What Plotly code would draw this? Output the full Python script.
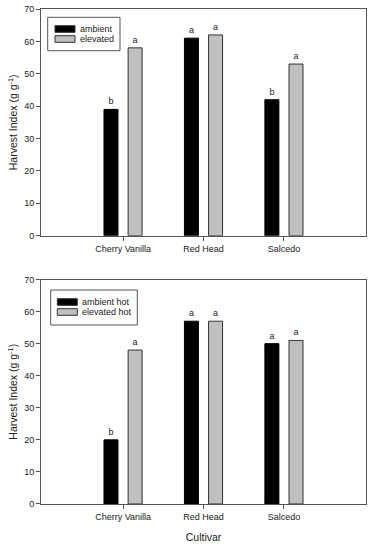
import plotly.graph_objects as go
from plotly.subplots import make_subplots

cultivars = ["Cherry Vanilla", "Red Head", "Salcedo"]

# Top panel
ambient = [39, 61, 42]
elevated = [58, 62, 53]
ambient_letters = ["b", "a", "b"]
elevated_letters = ["a", "a", "a"]

# Bottom panel
ambient_hot = [20, 57, 50]
elevated_hot = [48, 57, 51]
ambient_hot_letters = ["b", "a", "a"]
elevated_hot_letters = ["a", "a", "a"]

y_ticks = [0, 10, 20, 30, 40, 50, 60, 70]

FONT = "Arial, Liberation Sans, sans-serif"
BLACK = "#000000"
GRAY = "#c0c0c0"
FRAME = "#555555"

W, H = 376, 550
ML, MR, MT, MB = 41, 10, 9, 46

fig = make_subplots(rows=2, cols=1, vertical_spacing=0.088)
fig.update_layout(
    yaxis=dict(domain=[0.542, 1.0]),
    yaxis2=dict(domain=[0.0, 0.4535]),
)

panels = [
    (1, ambient, elevated, ambient_letters, elevated_letters, ["ambient", "elevated"]),
    (2, ambient_hot, elevated_hot, ambient_hot_letters, elevated_hot_letters, ["ambient hot", "elevated hot"]),
]

for row, a_vals, e_vals, a_let, e_let, names in panels:
    fig.add_trace(go.Bar(x=cultivars, y=a_vals, name=names[0], showlegend=False,
                         marker=dict(color=BLACK, line=dict(color="#000000", width=1)),
                         text=a_let, textposition="outside",
                         textfont=dict(family=FONT, size=9, color="#222"), cliponaxis=False),
                  row=row, col=1)
    fig.add_trace(go.Bar(x=cultivars, y=e_vals, name=names[1], showlegend=False,
                         marker=dict(color=GRAY, line=dict(color="#333333", width=1)),
                         text=e_let, textposition="outside",
                         textfont=dict(family=FONT, size=9, color="#222"), cliponaxis=False),
                  row=row, col=1)

fig.update_layout(
    barmode="group", bargap=0.4, bargroupgap=0.42,
    width=W, height=H,
    margin=dict(l=ML, r=MR, t=MT, b=MB, autoexpand=False),
    paper_bgcolor="white", plot_bgcolor="white",
    font=dict(family=FONT, color="#222"),
    uniformtext=dict(minsize=9, mode="show"),
)

for r in (1, 2):
    fig.update_xaxes(row=r, col=1, range=[-1.02, 3.02], showline=True, linecolor=FRAME,
                     linewidth=1, mirror=True, ticks="outside", ticklen=4, tickcolor=FRAME,
                     tickfont=dict(family=FONT, size=9, color="#222"), showgrid=False,
                     automargin=False)
    fig.update_yaxes(row=r, col=1, range=[0, 70], tickvals=y_ticks, showline=True,
                     linecolor=FRAME, linewidth=1, mirror=True, ticks="outside",
                     ticklen=4, tickcolor=FRAME, showgrid=False, zeroline=False,
                     automargin=False,
                     tickfont=dict(family=FONT, size=9, color="#222"),
                     title=dict(text="Harvest Index (g g<sup>-1</sup>)",
                                font=dict(family=FONT, size=10.5, color="#222"),
                                standoff=4))

fig.update_xaxes(row=2, col=1, title=dict(text="Cultivar",
                                          font=dict(family=FONT, size=10.5, color="#222"),
                                          standoff=12))

# custom legends (pixel positions converted to paper coordinates)
pw = W - ML - MR
ph = H - MT - MB


def px(x):
    return (x - ML) / pw


def py(y):
    return (H - MB - y) / ph


legends = [
    (panels[0][5], (47.7, 17.3, 120.0, 50.7), (55, 75), [(25.7, 32.3), (35.7, 42.3)], 79),
    (panels[1][5], (50.7, 290.0, 137.3, 325.0), (57.3, 77.3), [(298.7, 305.3), (308.7, 315.3)], 81.3),
]
for names, box, sx, sy, tx in legends:
    fig.add_shape(type="rect", xref="paper", yref="paper",
                  x0=px(box[0]), x1=px(box[2]), y0=py(box[3]), y1=py(box[1]),
                  line=dict(color=FRAME, width=1), fillcolor="white", layer="above")
    for (y0, y1), name, col in zip(sy, names, [BLACK, GRAY]):
        fig.add_shape(type="rect", xref="paper", yref="paper",
                      x0=px(sx[0]), x1=px(sx[1]), y0=py(y1), y1=py(y0),
                      line=dict(color="#333", width=1), fillcolor=col, layer="above")
        fig.add_annotation(xref="paper", yref="paper", x=px(tx), y=py((y0 + y1) / 2),
                           text=name, showarrow=False, xanchor="left", yanchor="middle",
                           borderpad=0,
                           font=dict(family=FONT, size=9, color="#222"))

fig.write_html(
    "out.html",
    config={"displayModeBar": False},
    post_script="document.body.style.margin='0';document.body.style.overflow='hidden';",
)
